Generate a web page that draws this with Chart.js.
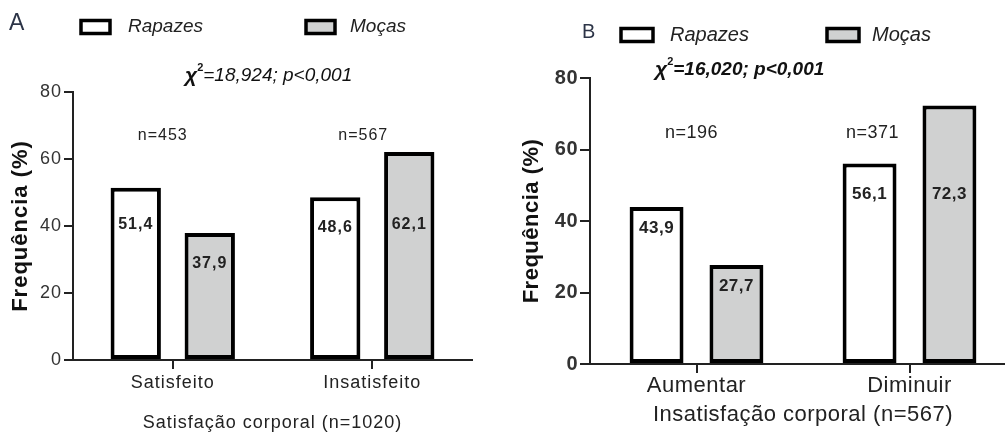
<!DOCTYPE html>
<html>
<head>
<meta charset="utf-8">
<script src="https://cdn.jsdelivr.net/npm/chart.js@4.4.1/dist/chart.umd.min.js"></script>
<style>
  html, body { margin: 0; padding: 0; background: #fff; }
  body { width: 1005px; height: 434px; overflow: hidden; position: relative; }
  canvas { position: absolute; top: 0; }
  #chartA { left: 0; }
  #chartB { left: 500px; }
</style>
</head>
<body>
<canvas id="chartA" width="500" height="434"></canvas>
<canvas id="chartB" width="530" height="434"></canvas>
<script>
// data
const seriesNames = ["Rapazes", "Moças"];
const categoriesA = ["Satisfeito", "Insatisfeito"];
const rapazesA = [51.4, 48.6];
const mocasA = [37.9, 62.1];
const nLabelsA = ["n=453", "n=567"];
const chiA = "=18,924; p<0,001";

const categoriesB = ["Aumentar", "Diminuir"];
const rapazesB = [43.9, 56.1];
const mocasB = [27.7, 72.3];
const nLabelsB = ["n=196", "n=371"];
const chiB = "=16,020; p<0,001";

const yTicks = [0, 20, 40, 60, 80];

const FONT = "'Liberation Sans', Arial, sans-serif";
const INK = "#222";
const colors = ["#ffffff", "#d0d1d1"];

const fmt = v => v.toFixed(1).replace(".", ",");

// draws the panel letter, legend, chi-square, n= and value labels
const annotate = {
  id: "annotate",
  beforeDraw(chart, args, o) {
    chart.ctx.letterSpacing = o.spacing;
  },
  afterDatasetsDraw(chart, args, o) {
    const ctx = chart.ctx;
    const xs = chart.scales.x, ys = chart.scales.y;
    ctx.save();
    ctx.fillStyle = INK;
    ctx.textAlign = "center";
    ctx.textBaseline = "middle";

    // values inside the bars
    ctx.font = "bold " + o.valueSize + "px " + FONT;
    chart.data.datasets.forEach((ds, di) => {
      chart.getDatasetMeta(di).data.forEach((bar, i) => {
        const v = ds.data[i];
        ctx.fillText(fmt(v), bar.x, ys.getPixelForValue(Math.min(v - o.labelDrop, o.labelCap)));
      });
    });

    // group sizes
    ctx.font = o.nSize + "px " + FONT;
    o.n.forEach((t, i) => {
      ctx.fillText(t, xs.getPixelForValue(i) + o.nShift[i], ys.getPixelForValue(o.nAt));
    });

    ctx.letterSpacing = "0px";

    // panel letter
    ctx.textAlign = "left";
    ctx.font = o.letterSize + "px " + FONT;
    ctx.fillStyle = "#2c3447";
    ctx.fillText(o.letter, o.letterX, o.legendY - 3);

    // legend
    chart.data.datasets.forEach((ds, di) => {
      const bx = o.boxX[di];
      ctx.fillStyle = ds.backgroundColor;
      ctx.fillRect(bx, o.legendY - o.boxH / 2, o.boxW, o.boxH);
      ctx.lineWidth = 3.5;
      ctx.strokeStyle = "#000";
      ctx.strokeRect(bx, o.legendY - o.boxH / 2, o.boxW, o.boxH);
      ctx.fillStyle = INK;
      ctx.font = "italic " + o.legendSize + "px " + FONT;
      ctx.fillText(ds.label, o.textX[di], o.legendY);
    });

    // chi-square
    let cx = o.chiX;
    ctx.fillStyle = "#111";
    ctx.font = "bold italic " + (o.chiSize + 2) + "px " + FONT;
    ctx.fillText("\u03c7", cx, o.chiY);
    cx += ctx.measureText("\u03c7").width;
    ctx.font = "bold " + Math.round(o.chiSize * 0.6) + "px " + FONT;
    ctx.fillText("2", cx, o.chiY - 8);
    cx += ctx.measureText("2").width;
    ctx.font = o.chiWeight + " italic " + o.chiSize + "px " + FONT;
    ctx.fillText(o.chi, cx, o.chiY);
    ctx.restore();
  }
};

function makeChart(id, cats, rap, moc, p) {
  return new Chart(document.getElementById(id), {
    type: "bar",
    data: {
      labels: cats,
      datasets: [
        { label: seriesNames[0], data: rap, backgroundColor: colors[0] },
        { label: seriesNames[1], data: moc, backgroundColor: colors[1] }
      ]
    },
    options: {
      responsive: false,
      animation: false,
      events: [],
      layout: { padding: { top: p.top, right: p.right, left: 0, bottom: 0 } },
      datasets: {
        bar: {
          borderColor: "#000",
          borderWidth: 4,
          borderSkipped: false,
          categoryPercentage: p.catPct,
          barPercentage: p.barPct
        }
      },
      scales: {
        x: {
          grid: { offset: false, drawOnChartArea: false, tickLength: 9, lineWidth: 2, color: INK },
          border: { display: true, width: 2, color: INK },
          ticks: { color: INK, font: { family: FONT, size: p.catSize }, padding: p.catPad },
          title: {
            display: true, text: p.xTitle, color: INK,
            font: { family: FONT, size: p.xTitleSize }, padding: { top: 0, bottom: p.xTitlePad }
          },
          afterFit(s) { s.height = p.xHeight; }
        },
        y: {
          min: 0, max: 80,
          afterBuildTicks(s) { s.ticks = yTicks.map(v => ({ value: v })); },
          grid: { drawOnChartArea: false, tickLength: p.yTick, lineWidth: 2, color: INK },
          border: { display: true, width: 2, color: INK },
          ticks: { color: "#333", font: { family: FONT, size: p.tickSize, weight: p.tickWeight }, padding: p.tickPad },
          title: {
            display: true, text: "Frequência (%)", color: "#111",
            font: { family: FONT, size: 22, weight: "bold" }, padding: { top: p.yTitlePad, bottom: 0 }
          },
          afterFit(s) { s.width = p.yWidth; }
        }
      },
      plugins: {
        legend: { display: false },
        tooltip: { enabled: false },
        annotate: p.ann
      }
    },
    plugins: [annotate]
  });
}

makeChart("chartA", categoriesA, rapazesA, mocasA, {
  top: 92, right: 28, yWidth: 73, xHeight: 74,
  catPct: 0.742, barPct: 0.68,
  catSize: 18, catPad: 3, xTitle: "Satisfação corporal (n=1020)", xTitleSize: 18, xTitlePad: 0,
  yTick: 9, tickSize: 18, tickWeight: "normal", tickPad: 2, yTitlePad: 8,
  ann: {
    spacing: "1px",
    valueSize: 16, labelDrop: 9, labelCap: 40.5,
    n: nLabelsA, nSize: 16, nAt: 67, nShift: [-10, -9],
    letter: "A", letterX: 9, letterSize: 23, legendY: 27,
    boxX: [81, 306], boxW: 29, boxH: 13, textX: [128, 350], legendSize: 19,
    chi: chiA, chiX: 185, chiY: 76, chiSize: 19, chiWeight: "normal"
  }
});

makeChart("chartB", categoriesB, rapazesB, mocasB, {
  top: 78, right: 14, yWidth: 90, xHeight: 70,
  catPct: 0.75, barPct: 0.675,
  catSize: 22, catPad: 0, xTitle: "Insatisfação corporal (n=567)", xTitleSize: 22, xTitlePad: 6,
  yTick: 10, tickSize: 20, tickWeight: "bold", tickPad: 2, yTitlePad: 19,
  ann: {
    spacing: "0.5px",
    valueSize: 17, labelDrop: 6, labelCap: 47.5,
    n: nLabelsB, nSize: 18, nAt: 64.6, nShift: [-5, -37],
    letter: "B", letterX: 82, letterSize: 20, legendY: 35,
    boxX: [121, 327], boxW: 32, boxH: 13, textX: [170, 372], legendSize: 20,
    chi: chiB, chiX: 155, chiY: 70, chiSize: 19, chiWeight: "bold"
  }
});
</script>
</body>
</html>
